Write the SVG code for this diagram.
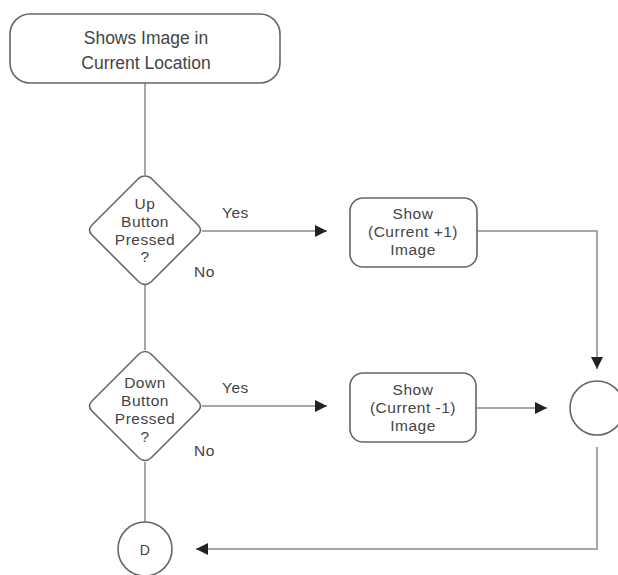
<svg xmlns="http://www.w3.org/2000/svg" width="618" height="575" viewBox="0 0 618 575">
<defs>
<marker id="arr" viewBox="0 0 10 10" refX="10" refY="5" markerWidth="14" markerHeight="12" markerUnits="userSpaceOnUse" orient="auto">
<path d="M0,0 L10,5 L0,10 z" fill="#222"/>
</marker>
</defs>
<style>
.node{fill:#fff;stroke:#666;stroke-width:1.6}
.conn{fill:none;stroke:#8a8a8a;stroke-width:1.5}
text{font-family:"Liberation Sans",Arial,sans-serif;font-size:15.5px;letter-spacing:0.5px;fill:#444;text-anchor:middle}
.big{font-size:17.5px;letter-spacing:0}
.lbl{text-anchor:start;font-size:15.5px}
.d{font-size:14px}
</style>
<rect width="618" height="575" fill="#fff"/>
<g id="connectors">
<line class="conn" x1="145" y1="83" x2="145" y2="175"/>
<line class="conn" x1="202" y1="231" x2="327" y2="231" marker-end="url(#arr)"/>
<line class="conn" x1="145" y1="285" x2="145" y2="350"/>
<polyline class="conn" points="477,231 597,231 597,369" marker-end="url(#arr)"/>
<line class="conn" x1="202" y1="406" x2="327" y2="406" marker-end="url(#arr)"/>
<line class="conn" x1="476" y1="408" x2="547" y2="408" marker-end="url(#arr)"/>
<line class="conn" x1="145" y1="462" x2="145" y2="522"/>
<polyline class="conn" points="597,447 597,549 196,549" marker-end="url(#arr)"/>
<text class="lbl" x="222" y="218">Yes</text>
<text class="lbl" x="194" y="277">No</text>
<text class="lbl" x="222" y="393">Yes</text>
<text class="lbl" x="194" y="456">No</text>
</g>
<g id="start">
<rect class="node" x="10" y="14" width="270" height="69" rx="20"/>
<text class="big" x="146" y="44">Shows Image in</text>
<text class="big" x="146" y="69">Current Location</text>
</g>
<g id="decision-up">
<path class="node" d="M139,178 Q145,174 151,178 L198,225 Q203,230 198,235 L151,282 Q145,287 139,282 L92,235 Q87,230 92,225 Z"/>
<text x="145" y="209">Up</text>
<text x="145" y="227">Button</text>
<text x="145" y="245">Pressed</text>
<text x="145" y="262">?</text>
</g>
<g id="show-plus">
<rect class="node" x="350" y="198" width="127" height="69" rx="13"/>
<text x="413" y="219">Show</text>
<text x="413" y="237">(Current +1)</text>
<text x="413" y="255">Image</text>
</g>
<g id="decision-down">
<path class="node" d="M139,354 Q145,349 151,354 L198,401 Q203,406 198,411 L151,458 Q145,463 139,458 L92,411 Q87,406 92,401 Z"/>
<text x="145" y="388">Down</text>
<text x="145" y="406">Button</text>
<text x="145" y="424">Pressed</text>
<text x="145" y="442">?</text>
</g>
<g id="show-minus">
<rect class="node" x="350" y="373" width="126" height="69" rx="13"/>
<text x="413" y="395">Show</text>
<text x="413" y="413">(Current -1)</text>
<text x="413" y="431">Image</text>
</g>
<g id="merge">
<circle class="node" cx="597" cy="408" r="27"/>
</g>
<g id="end-d">
<circle class="node" cx="145" cy="549" r="27"/>
<text class="d" x="145" y="555">D</text>
</g>
</svg>
